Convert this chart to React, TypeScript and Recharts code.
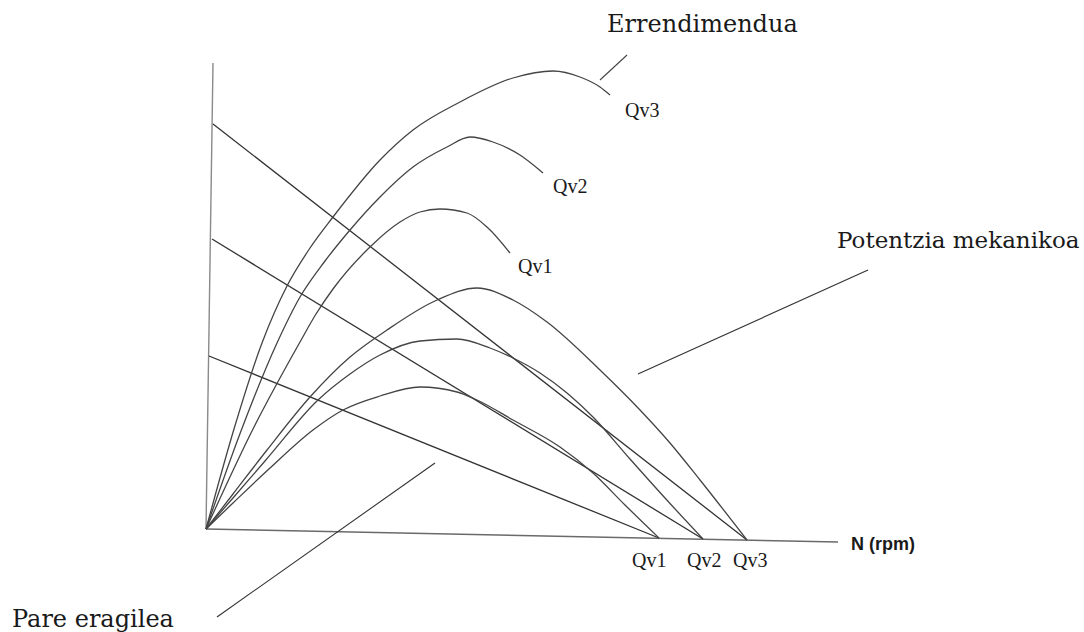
import { LineChart, Line, XAxis, YAxis, ReferenceDot } from "recharts";

// N (rpm) along x, value along y, origin at the axes corner
type Pt = [number, number];

const axisN: Pt[] = [[0, 0], [632, -13]];
const axisValue: Pt[] = [[0, 0], [7, 466]];

// Pare eragilea (straight torque lines)
const torqueQv1: Pt[] = [[3, 173], [453, -9]];
const torqueQv2: Pt[] = [[6, 290], [497, -10]];
const torqueQv3: Pt[] = [[7, 405], [541, -11]];

// Potentzia mekanikoa
const powerQv1: Pt[] = [
  [0, 0], [27, 26], [64, 61], [107, 99], [137, 119], [174, 133], [214, 142],
  [251, 137], [271, 129], [307, 109], [354, 82], [387, 56], [419, 24], [453, -9],
];
const powerQv2: Pt[] = [
  [0, 0], [27, 31], [59, 68], [112, 129], [144, 155], [174, 174], [214, 188],
  [251, 190], [284, 181], [307, 171], [334, 156], [361, 136], [387, 112],
  [424, 70], [459, 31], [497, -10],
];
const powerQv3: Pt[] = [
  [0, 0], [27, 35], [61, 79], [104, 132], [144, 172], [181, 199], [231, 229],
  [271, 241], [307, 229], [341, 207], [394, 159], [434, 119], [464, 86],
  [494, 49], [541, -11],
];

// Errendimendua
const effQv1: Pt[] = [
  [0, 0], [47, 100], [94, 187], [110, 215], [127, 240], [164, 282], [194, 307],
  [214, 317], [234, 320], [261, 316], [281, 302], [304, 276],
];
const effQv2: Pt[] = [
  [0, 0], [35, 98], [71, 186], [94, 232], [119, 268], [144, 299], [174, 332],
  [207, 362], [241, 382], [264, 392], [287, 387], [314, 374], [337, 356],
];
const effQv3: Pt[] = [
  [0, 0], [28, 100], [56, 186], [81, 243], [104, 281], [127, 312], [174, 369],
  [207, 399], [254, 427], [307, 451], [347, 458], [374, 452], [394, 442], [404, 434],
];

// leader lines from the captions
const leaderEff: Pt[] = [[394, 449], [421, 474]];
const leaderPower: Pt[] = [[432, 155], [662, 259]];
const leaderTorque: Pt[] = [[11, -88], [229, 66]];

const captions = [
  { text: "Errendimendua", n: 401, v: 497, kind: "caption", size: 24 },
  { text: "Potentzia mekanikoa", n: 631, v: 281, kind: "caption", size: 23 },
  { text: "Pare eragilea", n: -194, v: -98, kind: "caption", size: 24 },
  { text: "N (rpm)", n: 645, v: -21, kind: "axis", size: 18 },
  { text: "Qv3", n: 419, v: 412, kind: "q", size: 20 },
  { text: "Qv2", n: 347, v: 336, kind: "q", size: 20 },
  { text: "Qv1", n: 312, v: 256, kind: "q", size: 20 },
  { text: "Qv1", n: 426, v: -38, kind: "q", size: 20 },
  { text: "Qv2", n: 481, v: -38, kind: "q", size: 20 },
  { text: "Qv3", n: 527, v: -38, kind: "q", size: 20 },
];

const rows = (pts: Pt[]) => pts.map(([n, v]) => ({ n, v }));

const series = [
  { id: "axisN", pts: axisN, curve: "linear", stroke: "#6a6a6a", w: 1.6 },
  { id: "axisValue", pts: axisValue, curve: "linear", stroke: "#8a8a8a", w: 1.4 },
  { id: "t1", pts: torqueQv1, curve: "linear", stroke: "#333", w: 1.3 },
  { id: "t2", pts: torqueQv2, curve: "linear", stroke: "#333", w: 1.3 },
  { id: "t3", pts: torqueQv3, curve: "linear", stroke: "#333", w: 1.3 },
  { id: "p1", pts: powerQv1, curve: "monotoneX", stroke: "#444", w: 1.3 },
  { id: "p2", pts: powerQv2, curve: "monotoneX", stroke: "#444", w: 1.3 },
  { id: "p3", pts: powerQv3, curve: "monotoneX", stroke: "#444", w: 1.3 },
  { id: "e1", pts: effQv1, curve: "monotoneX", stroke: "#444", w: 1.3 },
  { id: "e2", pts: effQv2, curve: "monotoneX", stroke: "#444", w: 1.3 },
  { id: "e3", pts: effQv3, curve: "monotoneX", stroke: "#444", w: 1.3 },
  { id: "l1", pts: leaderEff, curve: "linear", stroke: "#444", w: 1.1 },
  { id: "l2", pts: leaderPower, curve: "linear", stroke: "#333", w: 1.1 },
  { id: "l3", pts: leaderTorque, curve: "linear", stroke: "#333", w: 1.1 },
];

function fontFor(kind: string, size: number) {
  if (kind === "axis") return { fontFamily: "Liberation Sans, Arial, sans-serif", fontSize: size, fontWeight: 700 };
  if (kind === "q") return { fontFamily: "Liberation Serif, Times New Roman, serif", fontSize: size, fontWeight: 400 };
  return { fontFamily: "DejaVu Serif, serif", fontSize: size, fontWeight: 400 };
}

export default function App() {
  return (
    <div style={{ position: "absolute", left: 0, top: 0, width: 1084, height: 632, background: "#fff" }}>
      <LineChart width={1084} height={632} margin={{ top: 0, right: 0, bottom: 0, left: 0 }}>
        <XAxis type="number" dataKey="n" domain={[-206, 878]} hide allowDataOverflow />
        <YAxis type="number" dataKey="v" domain={[-103, 529]} hide allowDataOverflow />
        {series.map((s) => (
          <Line
            key={s.id}
            data={rows(s.pts)}
            dataKey="v"
            type={s.curve as any}
            stroke={s.stroke}
            strokeWidth={s.w}
            dot={false}
            activeDot={false}
            isAnimationActive={false}
          />
        ))}
        {captions.map((c, i) => (
          <ReferenceDot
            key={i}
            x={c.n}
            y={c.v}
            r={0}
            stroke="none"
            fill="none"
            ifOverflow="visible"
            label={(p: any) => (
              <text x={p.viewBox.x} y={p.viewBox.y} fill="#1a1a1a" {...fontFor(c.kind, c.size)}>
                {c.text}
              </text>
            )}
          />
        ))}
      </LineChart>
    </div>
  );
}
